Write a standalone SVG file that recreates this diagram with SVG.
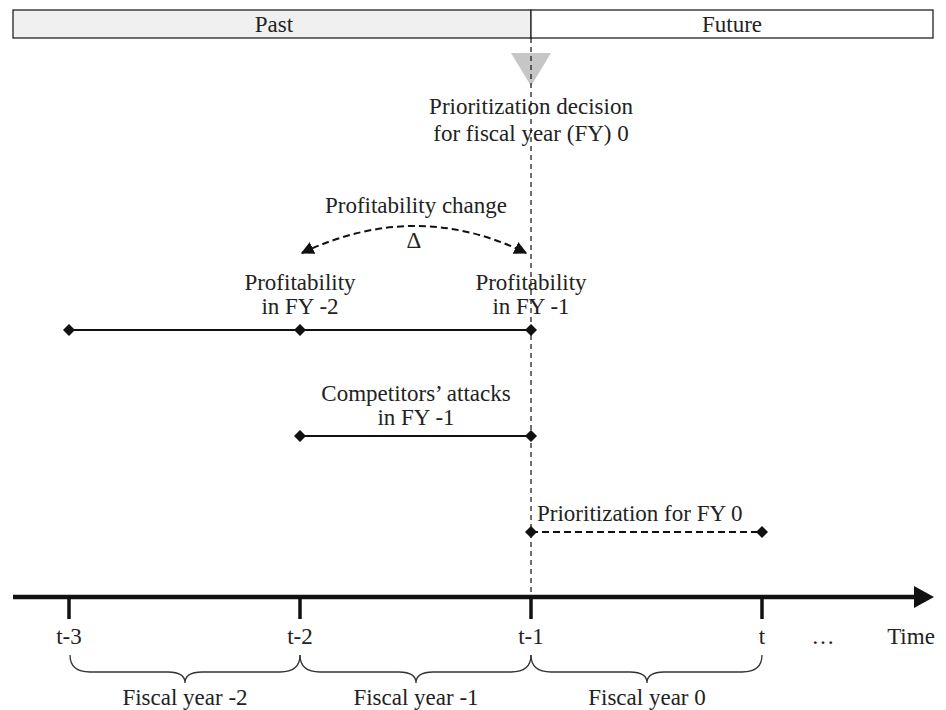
<svg xmlns="http://www.w3.org/2000/svg" width="946" height="710" viewBox="0 0 946 710">
<style>
text{font-family:"Liberation Serif","Times New Roman",serif;font-size:23px;fill:#222;text-anchor:middle}
.solid{stroke:#111;stroke-width:2.2;fill:none}
.dash{stroke:#111;stroke-width:2;fill:none;stroke-dasharray:7 4}
.vdash{stroke:#111;stroke-width:1.2;fill:none;stroke-dasharray:5 4}
.tick{stroke:#111;stroke-width:3.5}
.brace{stroke:#333;stroke-width:1.3;fill:none}
</style>
<defs>
<marker id="dia" viewBox="-6 -6 12 12" markerWidth="12" markerHeight="12" markerUnits="userSpaceOnUse" refX="0" refY="0">
<path d="M0,-6 L6,0 L0,6 L-6,0 Z" fill="#111"/>
</marker>
<marker id="ah" viewBox="0 0 10 10" markerWidth="13" markerHeight="13" markerUnits="userSpaceOnUse" refX="9" refY="5" orient="auto-start-reverse">
<path d="M0,0 L10,5 L0,10 Z" fill="#111"/>
</marker>
</defs>
<g id="header">
<rect x="13" y="10" width="518" height="28" fill="#f0f0f0" stroke="#222" stroke-width="1.3"/>
<rect x="531" y="10" width="402" height="28" fill="#fff" stroke="#222" stroke-width="1.3"/>
<text x="274" y="32">Past</text>
<text x="732" y="32">Future</text>
</g>
<g id="decision">
<polygon points="511,53 551,53 531,86" fill="#c6c6c6"/>
<text x="531" y="114">Prioritization decision</text>
<text x="531" y="141">for fiscal year (FY) 0</text>
</g>
<g id="connectors">
<line class="vdash" x1="531" y1="38" x2="531" y2="598"/>
<path class="dash" d="M302,253 Q416,199 526,253" marker-start="url(#ah)" marker-end="url(#ah)" stroke-dasharray="5 3"/>
<line class="solid" x1="69" y1="330" x2="531" y2="330" marker-start="url(#dia)" marker-end="url(#dia)"/>
<line class="solid" x1="300" y1="330" x2="300" y2="330" marker-start="url(#dia)"/>
<line class="solid" x1="300" y1="436" x2="531" y2="436" marker-start="url(#dia)" marker-end="url(#dia)"/>
<line class="dash" x1="531" y1="532" x2="762" y2="532" marker-start="url(#dia)" marker-end="url(#dia)"/>
</g>
<g id="profit-change">
<text x="416" y="213">Profitability change</text>
<text x="414" y="248">Δ</text>
</g>
<g id="profit-fy-2">
<text x="300" y="290">Profitability</text>
<text x="300" y="314">in FY -2</text>
</g>
<g id="profit-fy-1">
<text x="531" y="290">Profitability</text>
<text x="531" y="314">in FY -1</text>
</g>
<g id="attacks">
<text x="416" y="401">Competitors’ attacks</text>
<text x="416" y="425">in FY -1</text>
</g>
<g id="prioritization">
<text x="537" y="521" style="text-anchor:start">Prioritization for FY 0</text>
</g>
<g id="axis">
<line x1="13" y1="597" x2="916" y2="597" stroke="#111" stroke-width="4.5"/>
<polygon points="914,586 934,597 914,608" fill="#111"/>
<line class="tick" x1="69" y1="597" x2="69" y2="619"/>
<line class="tick" x1="300" y1="597" x2="300" y2="619"/>
<line class="tick" x1="531" y1="597" x2="531" y2="619"/>
<line class="tick" x1="762" y1="597" x2="762" y2="619"/>
<text x="69" y="644">t-3</text>
<text x="300" y="644">t-2</text>
<text x="531" y="644">t-1</text>
<text x="762" y="644">t</text>
<text x="823" y="644">…</text>
<text x="911" y="644">Time</text>
</g>
<g id="fiscal-years">
<path class="brace" d="M70,655 Q70,672 90,672 L168,672 Q185,672 185,683 Q185,672 202,672 L280,672 Q300,672 300,655"/>
<path class="brace" d="M300,655 Q300,672 320,672 L399,672 Q416,672 416,683 Q416,672 433,672 L511,672 Q531,672 531,655"/>
<path class="brace" d="M531,655 Q531,672 551,672 L630,672 Q647,672 647,683 Q647,672 664,672 L742,672 Q762,672 762,655"/>
<text x="185" y="705">Fiscal year -2</text>
<text x="416" y="705">Fiscal year -1</text>
<text x="647" y="705">Fiscal year 0</text>
</g>
</svg>
